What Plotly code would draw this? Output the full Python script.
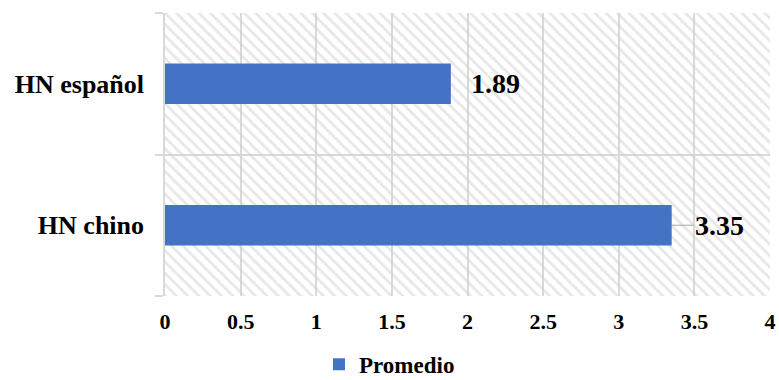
import plotly.graph_objects as go

# Average scores per group
categories = ["HN chino", "HN español"]
promedio = [3.35, 1.89]
series_name = "Promedio"
x_ticks = [0, 0.5, 1, 1.5, 2, 2.5, 3, 3.5, 4]
x_max = 4

BAR_COLOR = "#4472C4"
GRID = "#d9d9d9"
FONT = "Liberation Serif, Times New Roman, serif"

fig = go.Figure()

# Hatched plot-area background, spanning the full value range
fig.add_trace(go.Bar(
    y=[categories[0]], x=[x_max], orientation="h",
    width=2, offset=-0.5,
    marker=dict(color="rgba(0,0,0,0)", line=dict(width=0),
                pattern=dict(shape="\\", fgcolor="#d0d0d0",
                             bgcolor="rgba(0,0,0,0)", size=8, solidity=0.35)),
    showlegend=False, hoverinfo="skip",
))

fig.add_trace(go.Bar(
    y=categories, x=promedio, orientation="h",
    name=f"<b>{series_name}</b>", width=0.285,
    marker=dict(color=BAR_COLOR, line=dict(width=0)),
))

# Value labels: "3.35" sits right of a short leader line
fig.add_annotation(
    x=promedio[1], y=categories[1], text=f"<b>{promedio[1]:.2f}</b>",
    showarrow=False, xanchor="left", xshift=18,
    font=dict(family=FONT, size=28, color="black"),
)
fig.add_annotation(
    x=promedio[0], y=categories[0], text=f"<b>{promedio[0]:.2f}</b>",
    showarrow=True, arrowhead=0, arrowwidth=1.2, arrowcolor="#a6a6a6",
    ax=48, ay=0, standoff=0,
    font=dict(family=FONT, size=28, color="black"),
)

fig.update_layout(
    width=779, height=380,
    margin=dict(l=165, r=9, t=13, b=84, autoexpand=False),
    paper_bgcolor="white", plot_bgcolor="white",
    barmode="overlay",
    showlegend=True,
    legend=dict(orientation="h", xref="container", yref="paper",
                x=0.5, xanchor="center", y=-0.165, yanchor="top",
                font=dict(family=FONT, size=23, color="black")),
    xaxis=dict(range=[0, x_max], tickvals=x_ticks,
               ticktext=[f"<b>{v:g}</b>" for v in x_ticks],
               showgrid=True, gridcolor=GRID, gridwidth=1.5,
               zeroline=False, showline=False, ticks="", automargin=False,
               tickfont=dict(family=FONT, size=22, color="black"),
               ticklabelstandoff=10),
    yaxis=dict(type="category", categoryorder="array", categoryarray=categories,
               range=[-0.5, 1.5], tickson="boundaries", automargin=False,
               ticktext=[f"<b>{c}</b>" for c in categories], tickvals=categories,
               showgrid=True, gridcolor=GRID, gridwidth=1.5,
               ticks="outside", ticklen=8, tickcolor=GRID, tickwidth=1.5,
               showline=True, linecolor=GRID, linewidth=1.5,
               tickfont=dict(family=FONT, size=26, color="black"),
               ticklabelstandoff=14),
)

fig.write_html("out.html")
